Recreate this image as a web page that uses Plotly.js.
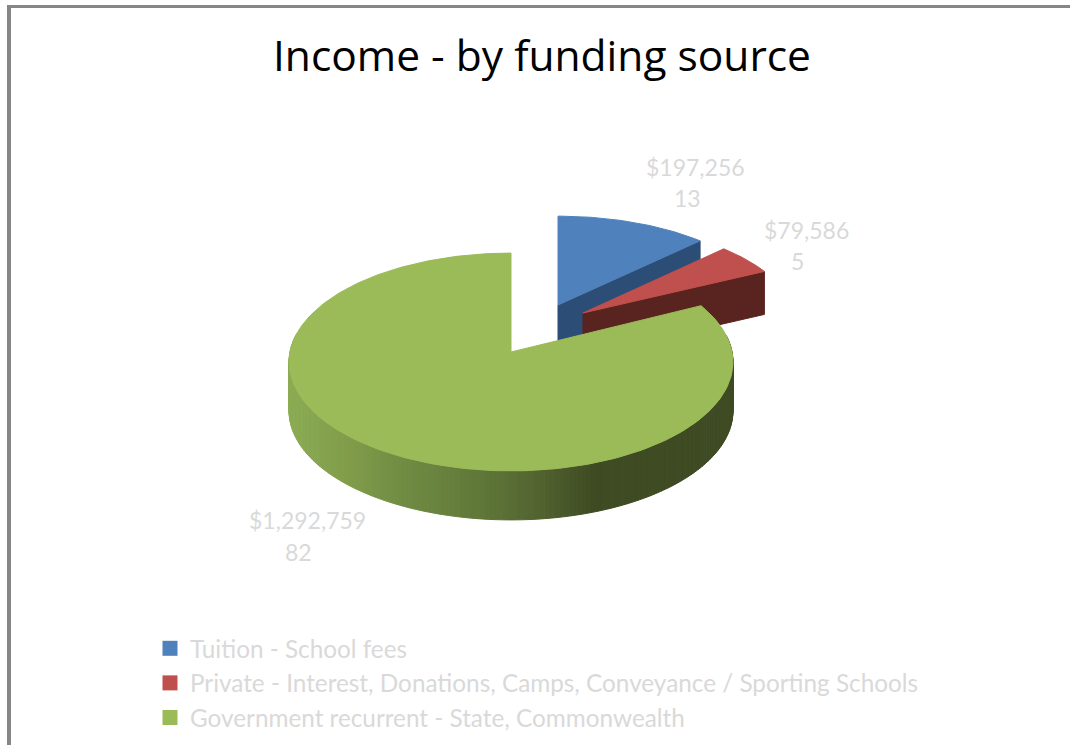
<!DOCTYPE html>
<html>
<head>
<meta charset="utf-8">
<title>Income - by funding source</title>
<script src="https://cdn.plot.ly/plotly-3.0.1.min.js"></script>
<style>html,body{margin:0;padding:0;background:#fff}#chart{width:1070px;height:745px}</style>
</head>
<body>
<div id="chart"></div>
<script>
// Income figures, one entry per funding source
const categories = [
  'Tuition - School fees',
  'Private - Interest, Donations, Camps, Conveyance / Sporting Schools',
  'Government recurrent - State, Commonwealth'
];
const amounts = [197256, 79586, 1292759];

// Slice styling and placement on the page (pixels, y down)
const topColours = ['#4f81bd', '#c0504d', '#9bbb59'];
const faceColours = ['#2c4d76', '#592320', '#3f4b23'];
const apexes = [[558, 305], [583, 313], [511, 352]];
const radiiX = [213, 211, 221];
const radiiY = [97, 97, 108];
const depths = [46, 43, 49];
const amountSpots = [[695, 167], [806, 230], [307, 520]];
const shareSpots = [[687, 198], [797, 261], [298, 552]];

// Shading across the rim of the large slice, left to right
const rimStops = [
  [288, [140, 172, 84]], [350, [128, 156, 74]], [410, [110, 138, 66]],
  [480, [96, 120, 56]], [540, [82, 98, 48]], [592, [63, 75, 35]], [732, [63, 75, 35]]
];

const FORE = 0.0917;   // foreshortening of the pie plane
const total = amounts.reduce((a, b) => a + b, 0);
const money = v => '$' + v.toLocaleString('en-US');

// Projects an angle (clockwise from straight back) on slice i's rim
function rimPoint(i, angle, drop) {
  const u = Math.sin(angle), v = Math.cos(angle), w = 1 + FORE * v;
  return [apexes[i][0] + radiiX[i] * u / w, apexes[i][1] - radiiY[i] * v / w + (drop || 0)];
}

function rimColour(x) {
  for (let k = 1; k < rimStops.length; k++) {
    if (x <= rimStops[k][0]) {
      const [x0, c0] = rimStops[k - 1], [x1, c1] = rimStops[k];
      const t = Math.max(0, (x - x0) / (x1 - x0));
      return 'rgb(' + c0.map((c, j) => Math.round(c + (c1[j] - c) * t)).join(',') + ')';
    }
  }
  return 'rgb(63,75,35)';
}

function poly(points, colour) {
  return {
    type: 'scatter', mode: 'lines', fill: 'toself', fillcolor: colour,
    x: points.map(p => p[0]), y: points.map(p => p[1]),
    line: {color: colour, width: 1}, hoverinfo: 'skip', showlegend: false
  };
}

// Slice angles come straight from the amounts
const starts = [], ends = [];
amounts.reduce((acc, v, i) => {
  starts[i] = acc / total * 2 * Math.PI;
  ends[i] = (acc + v) / total * 2 * Math.PI;
  return acc + v;
}, 0);

const traces = [];

// The two small slices: cut face below, top surface above
[0, 1].forEach(i => {
  const outer = rimPoint(i, ends[i]);
  const outerLow = rimPoint(i, ends[i], depths[i]);
  traces.push(poly([apexes[i], outer, outerLow, [apexes[i][0], apexes[i][1] + depths[i]], apexes[i]], faceColours[i]));
  const top = [apexes[i]];
  for (let k = 0; k <= 40; k++) top.push(rimPoint(i, starts[i] + (ends[i] - starts[i]) * k / 40));
  top.push(apexes[i]);
  traces.push(poly(top, topColours[i]));
});

// The large slice: rim as narrow shaded strips, then the top surface
const RIM_STEP = Math.PI / 180;
for (let a = Math.PI * 0.45; a < Math.PI * 1.55; a += RIM_STEP) {
  const p0 = rimPoint(2, a), p1 = rimPoint(2, a + RIM_STEP);
  const q1 = rimPoint(2, a + RIM_STEP, depths[2]), q0 = rimPoint(2, a, depths[2]);
  traces.push(poly([p0, p1, q1, q0, p0], rimColour((p0[0] + p1[0]) / 2)));
}
const greenTop = [apexes[2]];
for (let k = 0; k <= 240; k++) greenTop.push(rimPoint(2, starts[2] + (ends[2] - starts[2]) * k / 240));
greenTop.push(apexes[2]);
traces.push(poly(greenTop, topColours[2]));

// Legend entries
categories.forEach((name, i) => {
  traces.push({
    type: 'scatter', mode: 'markers', name: name, x: [null], y: [null],
    legendgroup: 'g' + i,
    marker: {symbol: 'square', size: 15, color: topColours[i]}, hoverinfo: 'skip'
  });
});

const labelFont = {family: 'Lato, sans-serif', size: 23, color: '#d9d9d9'};

// Each slice carries its amount and, below it, its rounded share of the total
const annotations = amounts.flatMap((v, i) => [
  {xref: 'x', yref: 'y', x: amountSpots[i][0], y: amountSpots[i][1],
   text: money(v), showarrow: false, font: labelFont},
  {xref: 'x', yref: 'y', x: shareSpots[i][0], y: shareSpots[i][1],
   text: String(Math.round(v / total * 100)), showarrow: false, font: labelFont}
]);

const layout = {
  width: 1070, height: 745,
  margin: {l: 0, r: 0, t: 0, b: 0},
  paper_bgcolor: '#ffffff', plot_bgcolor: '#ffffff',
  title: {
    text: 'Income - by funding source',
    x: 542 / 1070, xanchor: 'center', xref: 'paper',
    y: 1 - 56 / 745, yanchor: 'middle', yref: 'container',
    font: {family: '"Open Sans", sans-serif', size: 42.5, color: '#000000'}
  },
  xaxis: {range: [0, 1070], visible: false, fixedrange: true},
  yaxis: {range: [745, 0], visible: false, fixedrange: true},
  showlegend: true,
  legend: {
    x: 150 / 1070, xanchor: 'left', y: 1 - 626 / 745, yanchor: 'top',
    traceorder: 'normal', tracegroupgap: 8,
    font: {family: 'Lato, sans-serif', size: 24.3, color: '#d9d9d9'}, bgcolor: 'rgba(0,0,0,0)'
  },
  annotations: annotations,
  shapes: [
    {type: 'rect', xref: 'paper', yref: 'paper', x0: 7 / 1070, x1: 11 / 1070, y0: 0, y1: 1 - 5 / 745,
     fillcolor: '#868686', line: {width: 0}},
    {type: 'rect', xref: 'paper', yref: 'paper', x0: 7 / 1070, x1: 1, y0: 1 - 5 / 745, y1: 1 - 8 / 745,
     fillcolor: '#868686', line: {width: 0}}
  ]
};

Plotly.newPlot('chart', traces, layout, {displayModeBar: false, staticPlot: true});
</script>
</body>
</html>
